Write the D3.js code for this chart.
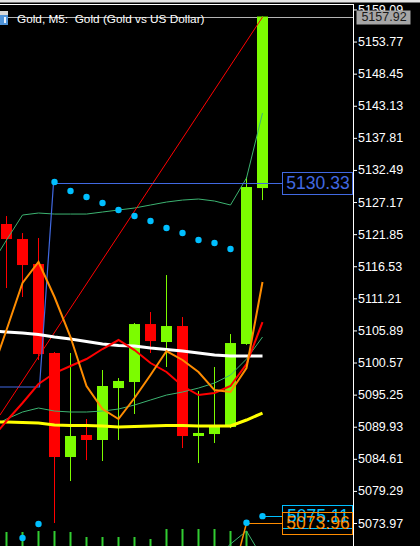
<!DOCTYPE html>
<html><head><meta charset="utf-8">
<script src="https://cdn.jsdelivr.net/npm/d3@7"></script>
<style>html,body{margin:0;padding:0;background:#000;overflow:hidden}</style>
</head><body>
<svg id="c" width="420" height="546"></svg>
<script>
// ---- data ----
const candleOpen  = [5123.53,5121.04,5116.90,5102.15,5084.91,5088.56,5087.73,5096.34,5097.34,5106.95,5103.97,5106.62,5088.39,5088.72,5089.88,5103.64,5129.49];
const candleHigh  = [5124.85,5122.03,5121.21,5102.31,5102.15,5091.21,5099.33,5098.00,5107.12,5108.94,5115.07,5108.11,5095.85,5099.83,5105.29,5131.32,5157.92];
const candleLow   = [5112.92,5111.43,5100.99,5073.97,5080.93,5084.41,5084.25,5087.73,5092.04,5102.15,5099.83,5086.40,5083.91,5087.23,5089.70,5103.50,5127.50];
const candleClose = [5121.04,5116.73,5101.98,5084.91,5088.39,5087.73,5096.68,5097.51,5106.95,5104.13,5106.62,5088.39,5088.89,5090.05,5103.80,5129.66,5157.92];
const volumes     = [1400,1400,1500,1500,1400,900,900,900,900,700,1700,1700,1700,1700,1500,1500,0];
const sarValues   = [null,5071.48,5073.80,5130.49,5129.00,5128.00,5127.01,5125.85,5124.85,5124.02,5122.86,5122.03,5120.87,5120.38,5119.38,5074.02,5075.11];
// indicator series start at bar index -1
const maWhite  = [5105.79,5105.63,5105.46,5105.21,5104.80,5104.47,5104.05,5103.64,5103.39,5103.31,5102.97,5102.73,5102.48,5102.15,5101.81,5101.65,5101.65,5101.65];
const maYellow = [5090.71,5090.71,5090.63,5090.54,5090.21,5090.13,5090.13,5090.05,5089.88,5089.96,5090.05,5090.13,5090.13,5090.05,5090.05,5090.05,5091.04,5092.20];
const maRed    = [5087.73,5090.88,5093.86,5097.01,5098.83,5099.99,5101.15,5102.81,5104.30,5102.64,5100.49,5099.00,5096.68,5095.18,5095.52,5096.68,5100.32,5107.28];
const maOrange = [5098.33,5105.96,5113.75,5117.23,5111.43,5104.80,5096.68,5092.86,5091.21,5094.69,5098.50,5102.48,5100.99,5099.00,5096.01,5095.68,5099.66,5113.91];
const bandUpper = [5116.56,5120.87,5125.02,5125.35,5125.18,5125.18,5125.18,5125.52,5125.85,5126.18,5126.68,5127.17,5127.50,5127.67,5127.34,5126.68,5131.15,5141.92];
const bandLower = [5089.72,5091.21,5092.37,5093.03,5092.53,5092.37,5092.37,5092.53,5092.86,5093.53,5094.36,5095.18,5095.68,5096.34,5097.17,5098.50,5101.15,5104.80];
// short series near the bottom (start at bar 13 and bar 14)
const lowGreen  = [5067.84,5070.49,5072.64,5068.17];
const lowOrange = [5063.86,5073.96];
// level / trend lines given as (bar index, price)
const blueIdx   = [-0.406,2.0625,2.9375];
const bluePrice = [5096.51,5096.51,5130.33];
const trendIdx   = [-0.406,16];
const trendPrice = [5091.87,5157.83];
const priceTicks = [5159.09,5153.77,5148.45,5143.13,5137.81,5132.49,5127.17,5121.85,5116.53,5111.21,5105.89,5100.57,5095.25,5089.93,5084.61,5079.29,5073.97];
const bidPrice = 5157.92;
const title = "Gold, M5:  Gold (Gold vs US Dollar)";

// ---- scales ----
const W = 420, H = 546, plotR = 353, plotT = 5;
const svg = d3.select("#c");
const x = d3.scaleLinear().domain([0,16]).range([6.5,262.5]);
const y = d3.scaleLinear().domain([5070.16,5159.83]).range([546,5]);
const vy = d3.scaleLinear().domain([0,10000]).range([0,100]);

svg.append("rect").attr("width",W).attr("height",H).attr("fill","#000");
svg.append("rect").attr("width",W).attr("height",2.5).attr("fill","#e4e4e4");

svg.append("defs").append("clipPath").attr("id","plot")
  .append("rect").attr("x",0).attr("y",plotT).attr("width",plotR).attr("height",H-plotT);
const g = svg.append("g").attr("clip-path","url(#plot)");

// bid line
g.append("line").attr("x1",0).attr("x2",plotR).attr("y1",Math.round(y(bidPrice))+0.5).attr("y2",Math.round(y(bidPrice))+0.5)
  .attr("stroke","#b4b4b4").attr("stroke-width",1);

// volumes
g.selectAll(".vol").data(volumes).join("rect")
  .attr("x",(d,i)=>x(i)-1).attr("width",2)
  .attr("y",d=>H-vy(d)).attr("height",d=>vy(d)).attr("fill","#32cd32");

// candles
const bars = candleOpen.map((o,i)=>({i,o,h:candleHigh[i],l:candleLow[i],c:candleClose[i]}));
const col = d=> d.c>=d.o ? "#7cfc00" : "#ff0000";
g.selectAll(".wick").data(bars).join("rect")
  .attr("x",d=>x(d.i)-0.5).attr("width",1)
  .attr("y",d=>y(d.h)).attr("height",d=>Math.max(1,y(d.l)-y(d.h))).attr("fill",col);
g.selectAll(".body").data(bars).join("rect")
  .attr("x",d=>x(d.i)-5.5).attr("width",11)
  .attr("y",d=>y(Math.max(d.o,d.c))).attr("height",d=>Math.max(1,Math.abs(y(d.o)-y(d.c)))).attr("fill",col);

// lines
const line = d3.line().x(d=>x(d.i)).y(d=>y(d.v));
const series = (arr,start)=>arr.map((v,k)=>({i:start+k,v}));
function drawLine(data,color,w){
  g.append("path").datum(data).attr("d",line).attr("fill","none")
   .attr("stroke",color).attr("stroke-width",w).attr("stroke-linejoin","miter");
}
drawLine(series(bandUpper,-1),"#3cb371",1);
drawLine(series(bandLower,-1),"#3cb371",1);
drawLine(series(lowGreen,13),"#3cb371",1);
drawLine(trendIdx.map((i,k)=>({i,v:trendPrice[k]})),"#ff0000",1);
drawLine(blueIdx.map((i,k)=>({i,v:bluePrice[k]})),"#4169e1",1.2);
drawLine(series(maYellow,-1),"#ffff00",3);
drawLine(series(maWhite,-1),"#ffffff",3);
drawLine(series(maRed,-1),"#ff0000",2);
drawLine(series(maOrange,-1),"#ff8c00",2);
drawLine(series(lowOrange,14),"#ff8c00",1.5);

// price label connectors
const boxX = 282;
function priceLabel(fromIdx, price, color){
  const yy = Math.round(y(price))+0.5;
  g.append("line").attr("x1",x(fromIdx)).attr("x2",boxX).attr("y1",yy).attr("y2",yy)
    .attr("stroke",color).attr("stroke-width",1);
}
priceLabel(blueIdx[2],bluePrice[2],"#4169e1");
priceLabel(16,sarValues[16],"#00bfff");
priceLabel(15,lowOrange[1],"#ff8c00");

// SAR dots
g.selectAll(".sar").data(sarValues.map((v,i)=>({i,v})).filter(d=>d.v!==null)).join("circle")
  .attr("cx",d=>x(d.i)).attr("cy",d=>y(d.v)).attr("r",3.2).attr("fill","#00bfff");

// frame
svg.append("line").attr("x1",0).attr("x2",plotR+0.5).attr("y1",4.5).attr("y2",4.5).attr("stroke","#fff");

// axis
const ax = svg.append("g").attr("transform",`translate(${plotR},0)`)
  .call(d3.axisRight(y).tickValues(priceTicks).tickSize(4).tickSizeOuter(0).tickPadding(1).tickFormat(d3.format(".2f")));
ax.select(".domain").attr("stroke","#fff");
ax.selectAll(".tick line").attr("stroke","#fff");
ax.selectAll(".tick text").attr("fill","#fff").style("font-family","'Liberation Sans', Arial, sans-serif").style("font-size","12.5px");
svg.append("line").attr("x1",plotR+0.5).attr("x2",plotR+0.5).attr("y1",4).attr("y2",H).attr("stroke","#fff");

// boxed labels
function box(price,color,h,fill,textColor,x0,w,fs){
  const cy = y(price);
  svg.append("rect").attr("x",x0+0.5).attr("y",Math.round(cy-h/2)+0.5).attr("width",w).attr("height",h)
    .attr("fill",fill).attr("stroke",fill==="none"?color:"none").attr("stroke-width",1);
  svg.append("text").attr("x",x0+w/2+1).attr("y",cy).attr("dy","0.36em").attr("text-anchor","middle")
    .attr("fill",textColor).style("font-family","'Liberation Sans', Arial, sans-serif").style("font-size",fs+"px")
    .text(d3.format(".2f")(price));
}
box(bluePrice[2],"#4169e1",22,"none","#4169e1",boxX,70,17.5);
box(sarValues[16],"#00bfff",23,"none","#00bfff",boxX,70,17.5);
box(lowOrange[1],"#ff8c00",22,"none","#ff8c00",boxX,70,17.5);
box(bidPrice,"#a6a6a6",14,"#a6a6a6","#1a1a1a",356,54,12.5);

// title
svg.append("rect").attr("x",0).attr("y",11).attr("width",8).attr("height",4).attr("fill","#d8d8d8");
svg.append("rect").attr("x",0).attr("y",15).attr("width",8).attr("height",10).attr("fill","#4f93d8");
svg.append("rect").attr("x",4).attr("y",17).attr("width",2).attr("height",6).attr("fill","#e8f2ff");
svg.append("text").attr("x",17).attr("y",23).attr("fill","#fff").attr("xml:space","preserve")
  .style("white-space","pre")
  .style("font-family","'Liberation Sans', Arial, sans-serif").style("font-size","11.8px").text(title);
</script>
</body></html>
